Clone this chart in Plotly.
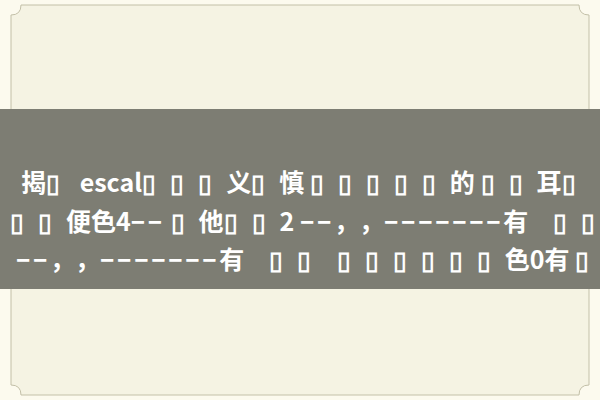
import plotly.graph_objects as go

W, H = 600, 400

# caption lines on the grey band (▯ = glyph that did not render in the source)
LINES = [
    "揭▯  escal▯ ▯ ▯ 义▯ 慎 ▯ ▯ ▯ ▯ ▯ 的 ▯ ▯ 耳▯",
    "▯ ▯ 便色4−− ▯ 他▯ ▯ 2 −−，，−−−−−−−有　▯ ▯",
    "−−，，−−−−−−−有　▯ ▯   ▯ ▯ ▯ ▯ ▯ ▯ 色0有 ▯",
]
LINE_X = [19, 8, 14]
LINE_Y = [181, 220, 258]

PAGE_BG  = "#fcfaee"
PANEL_BG = "#f5f3e3"
FRAME    = "#c3c0a8"
BAND     = "#7d7d73"
TEXT_FONT = "Noto Sans CJK SC"
DASH_FONT = "Noto Sans"


def frame_path(x0, y0, x1, y1, r):
    """Rectangle with concave notched corners."""
    return (
        f"M {x0 + r},{y0} L {x1 - r},{y0} Q {x1 - r},{y0 + r} {x1},{y0 + r} "
        f"L {x1},{y1 - r} Q {x1 - r},{y1 - r} {x1 - r},{y1} "
        f"L {x0 + r},{y1} Q {x0 + r},{y1 - r} {x0},{y1 - r} "
        f"L {x0},{y0 + r} Q {x0 + r},{y0 + r} {x0 + r},{y0} Z"
    )


def styled(txt):
    out = ""
    for ch in txt:
        if ch == " ":
            out += "\u00a0"
        elif ch == "▯":
            out += "▯\u2004"
        elif ch == "，":
            # zero-width break so the browser keeps both commas full width
            out += "，\u200b"
        elif ch == "−":
            out += f"<span style='font-family:{DASH_FONT}'>−\u200a</span>"
        else:
            out += ch
    return out


fig = go.Figure()

fig.add_shape(type="path", path=frame_path(11, 5, 589, 395, 10),
              fillcolor=PANEL_BG, line=dict(color=FRAME, width=1), layer="below")
fig.add_shape(type="rect", x0=0, x1=W, y0=109, y1=289,
              fillcolor=BAND, line=dict(width=0), layer="above")

for txt, x, y in zip(LINES, LINE_X, LINE_Y):
    fig.add_annotation(
        x=x, y=y, xref="x", yref="y",
        text=styled(txt),
        showarrow=False, xanchor="left", yanchor="middle",
        font=dict(family=TEXT_FONT, size=25, color="white", weight="bold"),
    )

fig.update_xaxes(range=[0, W], visible=False, fixedrange=True)
fig.update_yaxes(range=[H, 0], visible=False, fixedrange=True)
fig.update_layout(
    width=W, height=H,
    margin=dict(l=0, r=0, t=0, b=0),
    paper_bgcolor=PAGE_BG, plot_bgcolor=PAGE_BG,
    showlegend=False,
)

fig.write_html("out.html", config={"displayModeBar": False},
               post_script="document.body.style.margin = '0';")
